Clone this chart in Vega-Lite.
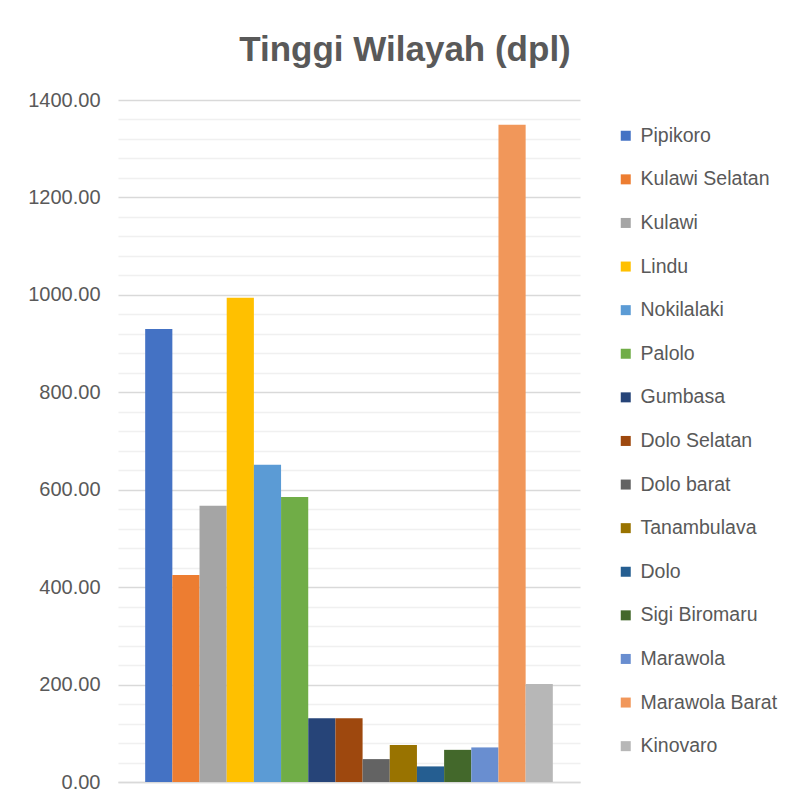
{
  "$schema": "https://vega.github.io/schema/vega-lite/v6.json",
  "width": 462,
  "height": 682,
  "autosize": {"type": "none"},
  "padding": {"left": 118, "top": 100, "right": 224, "bottom": 25},
  "background": "white",
  "title": {
    "text": "Tinggi Wilayah (dpl)",
    "font": "Liberation Sans",
    "fontSize": 35,
    "fontWeight": "bold",
    "color": "#595959",
    "anchor": "middle",
    "frame": "group",
    "dx": 56,
    "offset": 22
  },
  "config": {
    "view": {"stroke": null}
  },
  "data": {
    "values": [
      {"kecamatan": "Pipikoro", "tinggi": 930},
      {"kecamatan": "Kulawi Selatan", "tinggi": 425},
      {"kecamatan": "Kulawi", "tinggi": 567},
      {"kecamatan": "Lindu", "tinggi": 994},
      {"kecamatan": "Nokilalaki", "tinggi": 651},
      {"kecamatan": "Palolo", "tinggi": 585},
      {"kecamatan": "Gumbasa", "tinggi": 131},
      {"kecamatan": "Dolo Selatan", "tinggi": 131},
      {"kecamatan": "Dolo barat", "tinggi": 47},
      {"kecamatan": "Tanambulava", "tinggi": 76},
      {"kecamatan": "Dolo", "tinggi": 32},
      {"kecamatan": "Sigi Biromaru", "tinggi": 66},
      {"kecamatan": "Marawola", "tinggi": 71},
      {"kecamatan": "Marawola Barat", "tinggi": 1349},
      {"kecamatan": "Kinovaro", "tinggi": 201}
    ]
  },
  "mark": {"type": "bar"},
  "encoding": {
    "x": {
      "field": "kecamatan",
      "type": "nominal",
      "sort": null,
      "scale": {"paddingInner": 0, "paddingOuter": 1.05},
      "axis": {
        "title": null,
        "labels": false,
        "ticks": false,
        "domain": true,
        "domainColor": "#d9d9d9",
        "domainWidth": 1.5,
        "grid": false
      }
    },
    "y": {
      "field": "tinggi",
      "type": "quantitative",
      "scale": {"domain": [0, 1400], "nice": false},
      "axis": {
        "title": null,
        "values": [0, 40, 80, 120, 160, 200, 240, 280, 320, 360, 400, 440, 480, 520, 560, 600, 640, 680, 720, 760, 800, 840, 880, 920, 960, 1000, 1040, 1080, 1120, 1160, 1200, 1240, 1280, 1320, 1360, 1400],
        "labelExpr": "datum.value % 200 === 0 ? format(datum.value, '.2f') : ''",
        "labelFont": "Liberation Sans",
        "labelFontSize": 20,
        "labelColor": "#595959",
        "labelPadding": 18,
        "ticks": false,
        "domain": false,
        "grid": true,
        "gridColor": {"condition": {"test": "datum.value % 200 === 0", "value": "#d9d9d9"}, "value": "#f0f0f0"},
        "gridWidth": 1.5
      }
    },
    "color": {
      "field": "kecamatan",
      "type": "nominal",
      "sort": null,
      "scale": {
        "range": ["#4472C4", "#ED7D31", "#A5A5A5", "#FFC000", "#5B9BD5", "#70AD47", "#264478", "#9E480E", "#636363", "#997300", "#255E91", "#43682B", "#698ED0", "#F1975A", "#B7B7B7"]
      },
      "legend": {
        "title": null,
        "orient": "none",
        "legendX": 498,
        "legendY": 26,
        "symbolType": "square",
        "symbolSize": 100,
        "symbolStrokeWidth": 0,
        "labelFont": "Liberation Sans",
        "labelFontSize": 19.5,
        "labelColor": "#595959",
        "labelOffset": 5,
        "rowPadding": 22.6,
        "padding": 0,
        "labelLimit": 200
      }
    }
  }
}
